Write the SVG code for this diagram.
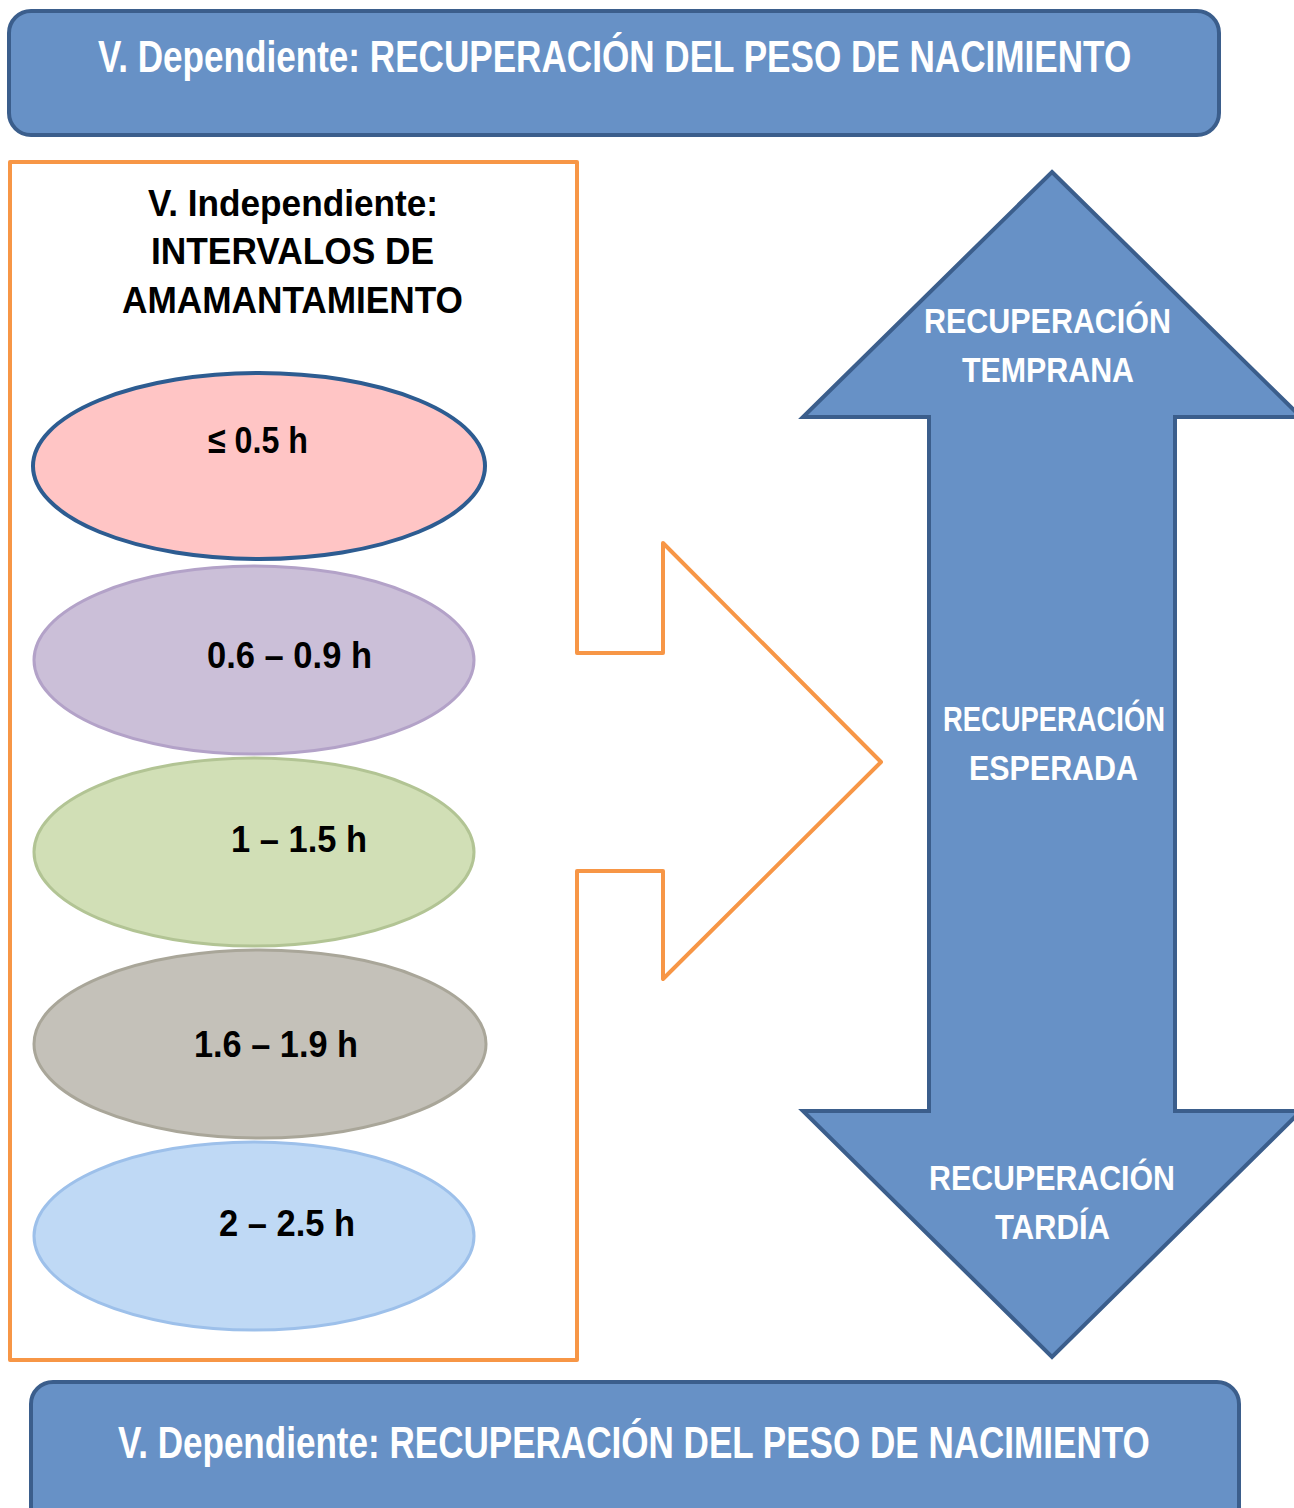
<svg xmlns="http://www.w3.org/2000/svg" width="1294" height="1508" viewBox="0 0 1294 1508">
<style>
  .t{font-family:"Liberation Sans Narrow","Liberation Sans",Arial,sans-serif;font-weight:bold}
  .w{fill:#FFFFFF}
  .k{fill:#000000}
  .box{fill:#6791C6;stroke:#3B5E8C;stroke-width:4}
</style>
<rect width="1294" height="1508" fill="#FFFFFF"/>
<g id="top-dependent">
  <rect class="box" x="9" y="11" width="1210" height="124" rx="22"/>
  <text class="t w" transform="translate(98,72) scale(0.7,1)" x="0" y="0" font-size="44" textLength="1476" lengthAdjust="spacingAndGlyphs">V. Dependiente: RECUPERACIÓN DEL PESO DE NACIMIENTO</text>
</g>
<g id="independent-frame">
  <path d="M577,653 H663 V543 L881,762 L663,979 V871 H577 V1360 H10 V162 H577 Z" fill="none" stroke="#F79646" stroke-width="4" stroke-linejoin="round"/>
  <text class="t k" x="148" y="216" font-size="37" textLength="290" lengthAdjust="spacingAndGlyphs">V. Independiente:</text>
  <text class="t k" x="151" y="264" font-size="37" textLength="283" lengthAdjust="spacingAndGlyphs">INTERVALOS DE</text>
  <text class="t k" x="122" y="313" font-size="37" textLength="341" lengthAdjust="spacingAndGlyphs">AMAMANTAMIENTO</text>
</g>
<g id="interval-1">
  <ellipse cx="259" cy="466" rx="226" ry="93" fill="#FFC5C5" stroke="#2D5C91" stroke-width="4"/>
  <text class="t k" x="208" y="453" font-size="37" textLength="100" lengthAdjust="spacingAndGlyphs">≤ 0.5 h</text>
</g>
<g id="interval-2">
  <ellipse cx="254" cy="660" rx="220" ry="94" fill="#CBBFD8" stroke="#B3A2C8" stroke-width="3"/>
  <text class="t k" x="207" y="668" font-size="37" textLength="165" lengthAdjust="spacingAndGlyphs">0.6 – 0.9 h</text>
</g>
<g id="interval-3">
  <ellipse cx="254" cy="852" rx="220" ry="94" fill="#D1DFB6" stroke="#B2C494" stroke-width="3"/>
  <text class="t k" x="231" y="852" font-size="37" textLength="136" lengthAdjust="spacingAndGlyphs">1 – 1.5 h</text>
</g>
<g id="interval-4">
  <ellipse cx="260" cy="1044" rx="226" ry="94" fill="#C4C1B9" stroke="#A9A699" stroke-width="3"/>
  <text class="t k" x="194" y="1057" font-size="37" textLength="164" lengthAdjust="spacingAndGlyphs">1.6 – 1.9 h</text>
</g>
<g id="interval-5">
  <ellipse cx="254" cy="1236" rx="220" ry="94" fill="#BFD9F5" stroke="#9DC0EA" stroke-width="3"/>
  <text class="t k" x="219" y="1236" font-size="37" textLength="136" lengthAdjust="spacingAndGlyphs">2 – 2.5 h</text>
</g>
<g id="recovery-arrow">
  <path d="M1052,172 L1301,417 H1175 V1111 H1301 L1052,1357 L803,1111 H929 V417 H803 Z" fill="#6791C6" stroke="#3B5E8C" stroke-width="4" stroke-linejoin="miter"/>
  <text class="t w" x="924" y="333" font-size="35" textLength="247" lengthAdjust="spacingAndGlyphs">RECUPERACIÓN</text>
  <text class="t w" x="962" y="382" font-size="35" textLength="172" lengthAdjust="spacingAndGlyphs">TEMPRANA</text>
  <text class="t w" x="943" y="731" font-size="35" textLength="222" lengthAdjust="spacingAndGlyphs">RECUPERACIÓN</text>
  <text class="t w" x="969" y="780" font-size="35" textLength="169" lengthAdjust="spacingAndGlyphs">ESPERADA</text>
  <text class="t w" x="929" y="1190" font-size="35" textLength="246" lengthAdjust="spacingAndGlyphs">RECUPERACIÓN</text>
  <text class="t w" x="995" y="1239" font-size="35" textLength="115" lengthAdjust="spacingAndGlyphs">TARDÍA</text>
</g>
<g id="bottom-dependent">
  <rect class="box" x="31" y="1382" width="1208" height="160" rx="22"/>
  <text class="t w" transform="translate(118,1458) scale(0.7,1)" x="0" y="0" font-size="44" textLength="1474" lengthAdjust="spacingAndGlyphs">V. Dependiente: RECUPERACIÓN DEL PESO DE NACIMIENTO</text>
</g>
</svg>
